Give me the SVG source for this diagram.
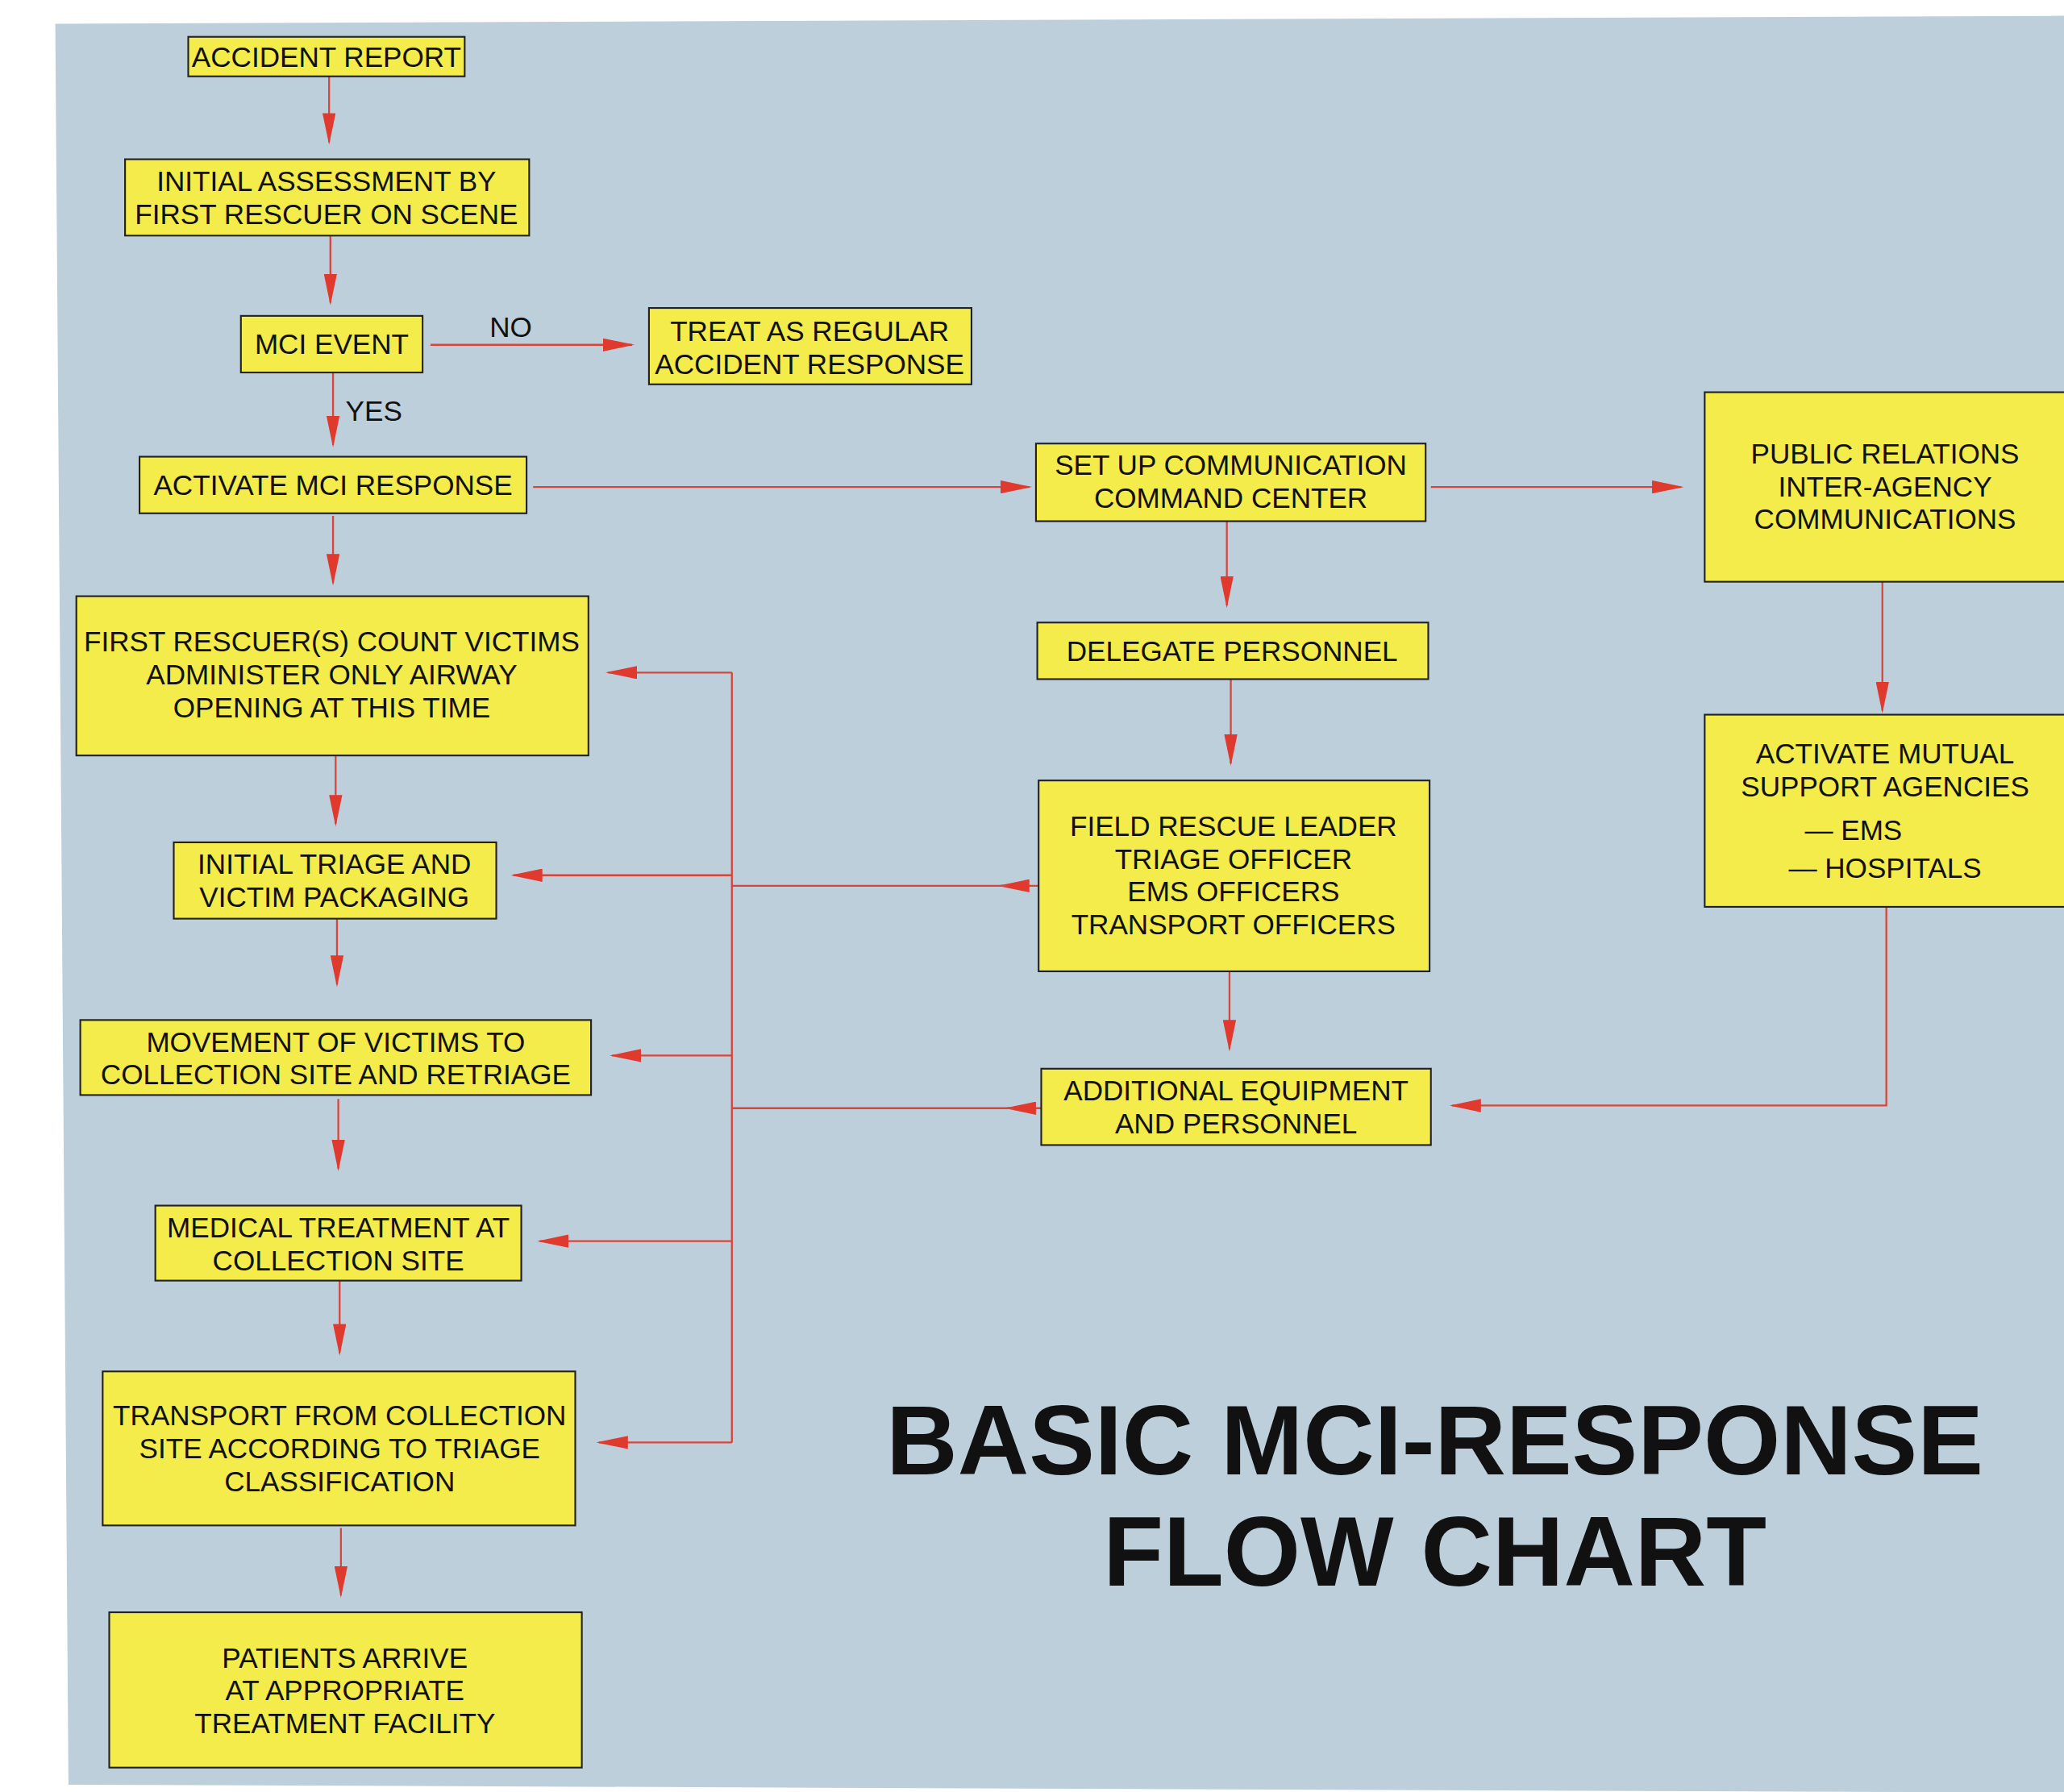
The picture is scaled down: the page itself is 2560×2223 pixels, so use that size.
<svg xmlns="http://www.w3.org/2000/svg" width="2560" height="2223" viewBox="0 0 2560 2223">
<style>
.b{fill:#f3ec4a;stroke:#222;stroke-width:1.3}
.t{font-family:"Liberation Sans",Arial,sans-serif;font-size:21.5px;fill:#111;text-anchor:middle}
.c{fill:none;stroke:#d8453a;stroke-width:1.4}
.h{font-family:"Liberation Sans",Arial,sans-serif;font-weight:bold;font-size:75px;fill:#111;text-anchor:middle}
</style>
<defs><marker id="a" viewBox="0 0 24 10" refX="22" refY="5" markerWidth="24" markerHeight="10" markerUnits="userSpaceOnUse" orient="auto"><path d="M0,0 L24,5 L0,10 z" fill="#e0392e"/></marker></defs>
<rect width="2560" height="2223" fill="#fff"/>
<g transform="scale(1.6327)">
<polygon points="42,18 1568,12 1568,1362 52,1356" fill="#bccfdb"/>
<g id="connectors">
<path class="c" d="M250,58 V108" marker-end="url(#a)"/>
<path class="c" d="M251,179 V230" marker-end="url(#a)"/>
<path class="c" d="M327,262 H480" marker-end="url(#a)"/>
<path class="c" d="M253,283 V338" marker-end="url(#a)"/>
<path class="c" d="M253,392 V443" marker-end="url(#a)"/>
<path class="c" d="M255,574 V626" marker-end="url(#a)"/>
<path class="c" d="M256,698 V748" marker-end="url(#a)"/>
<path class="c" d="M257,835 V888" marker-end="url(#a)"/>
<path class="c" d="M258,973 V1028" marker-end="url(#a)"/>
<path class="c" d="M259,1161 V1212" marker-end="url(#a)"/>
<path class="c" d="M405,370 H782" marker-end="url(#a)"/>
<path class="c" d="M1087,370 H1277" marker-end="url(#a)"/>
<path class="c" d="M932,396 V460" marker-end="url(#a)"/>
<path class="c" d="M935,516 V580" marker-end="url(#a)"/>
<path class="c" d="M934,738 V797" marker-end="url(#a)"/>
<path class="c" d="M1430,442 V540" marker-end="url(#a)"/>
<path class="c" d="M1433,689 V840 H1103" marker-end="url(#a)"/>
<path class="c" d="M789,673 H760" marker-end="url(#a)"/>
<path class="c" d="M791,842 H765" marker-end="url(#a)"/>
<path class="c" d="M765,673 H556"/>
<path class="c" d="M770,842 H556"/>
<path class="c" d="M556,511 V1096"/>
<path class="c" d="M556,511 H462" marker-end="url(#a)"/>
<path class="c" d="M556,665 H390" marker-end="url(#a)"/>
<path class="c" d="M556,802 H465" marker-end="url(#a)"/>
<path class="c" d="M556,943 H410" marker-end="url(#a)"/>
<path class="c" d="M556,1096 H455" marker-end="url(#a)"/>
</g>
<g id="n1"><rect class="b" x="143" y="28" width="210" height="30"/><text class="t" x="248" y="51">ACCIDENT REPORT</text></g>
<g id="n2"><rect class="b" x="95" y="121" width="307" height="58"/><text class="t" x="248" y="145">INITIAL ASSESSMENT BY</text><text class="t" x="248" y="170">FIRST RESCUER ON SCENE</text></g>
<g id="n3"><rect class="b" x="183" y="240" width="138" height="43"/><text class="t" x="252" y="269">MCI EVENT</text></g>
<text class="t" x="388" y="256">NO</text>
<text class="t" x="284" y="320">YES</text>
<g id="n4"><rect class="b" x="493" y="234" width="245" height="58"/><text class="t" x="615" y="259">TREAT AS REGULAR</text><text class="t" x="615" y="284">ACCIDENT RESPONSE</text></g>
<g id="n5"><rect class="b" x="106" y="347" width="294" height="43"/><text class="t" x="253" y="376">ACTIVATE MCI RESPONSE</text></g>
<g id="n6"><rect class="b" x="58" y="453" width="389" height="121"/><text class="t" x="252" y="495">FIRST RESCUER(S) COUNT VICTIMS</text><text class="t" x="252" y="520">ADMINISTER ONLY AIRWAY</text><text class="t" x="252" y="545">OPENING AT THIS TIME</text></g>
<g id="n7"><rect class="b" x="132" y="640" width="245" height="58"/><text class="t" x="254" y="664">INITIAL TRIAGE AND</text><text class="t" x="254" y="689">VICTIM PACKAGING</text></g>
<g id="n8"><rect class="b" x="61" y="775" width="388" height="57"/><text class="t" x="255" y="799">MOVEMENT OF VICTIMS TO</text><text class="t" x="255" y="824">COLLECTION SITE AND RETRIAGE</text></g>
<g id="n9"><rect class="b" x="118" y="916" width="278" height="57"/><text class="t" x="257" y="940">MEDICAL TREATMENT AT</text><text class="t" x="257" y="965">COLLECTION SITE</text></g>
<g id="n10"><rect class="b" x="78" y="1042" width="359" height="117"/><text class="t" x="258" y="1083">TRANSPORT FROM COLLECTION</text><text class="t" x="258" y="1108">SITE ACCORDING TO TRIAGE</text><text class="t" x="258" y="1133">CLASSIFICATION</text></g>
<g id="n11"><rect class="b" x="83" y="1225" width="359" height="118"/><text class="t" x="262" y="1267">PATIENTS ARRIVE</text><text class="t" x="262" y="1292">AT APPROPRIATE</text><text class="t" x="262" y="1317">TREATMENT FACILITY</text></g>
<g id="n12"><rect class="b" x="787" y="337" width="296" height="59"/><text class="t" x="935" y="361">SET UP COMMUNICATION</text><text class="t" x="935" y="386">COMMAND CENTER</text></g>
<g id="n13"><rect class="b" x="788" y="473" width="297" height="43"/><text class="t" x="936" y="502">DELEGATE PERSONNEL</text></g>
<g id="n14"><rect class="b" x="789" y="593" width="297" height="145"/><text class="t" x="937" y="635">FIELD RESCUE LEADER</text><text class="t" x="937" y="660">TRIAGE OFFICER</text><text class="t" x="937" y="685">EMS OFFICERS</text><text class="t" x="937" y="710">TRANSPORT OFFICERS</text></g>
<g id="n15"><rect class="b" x="791" y="812" width="296" height="58"/><text class="t" x="939" y="836">ADDITIONAL EQUIPMENT</text><text class="t" x="939" y="861">AND PERSONNEL</text></g>
<g id="n16"><rect class="b" x="1295" y="298" width="280" height="144"/><text class="t" x="1432" y="352">PUBLIC RELATIONS</text><text class="t" x="1432" y="377">INTER-AGENCY</text><text class="t" x="1432" y="402">COMMUNICATIONS</text></g>
<g id="n17"><rect class="b" x="1295" y="543" width="280" height="146"/><text class="t" x="1432" y="580">ACTIVATE MUTUAL</text><text class="t" x="1432" y="605">SUPPORT AGENCIES</text><text class="t" x="1408" y="638">— EMS</text><text class="t" x="1432" y="667">— HOSPITALS</text></g>
<text class="h" x="1090" y="1120">BASIC MCI-RESPONSE</text>
<text class="h" x="1090" y="1205">FLOW CHART</text>
</g>
</svg>
